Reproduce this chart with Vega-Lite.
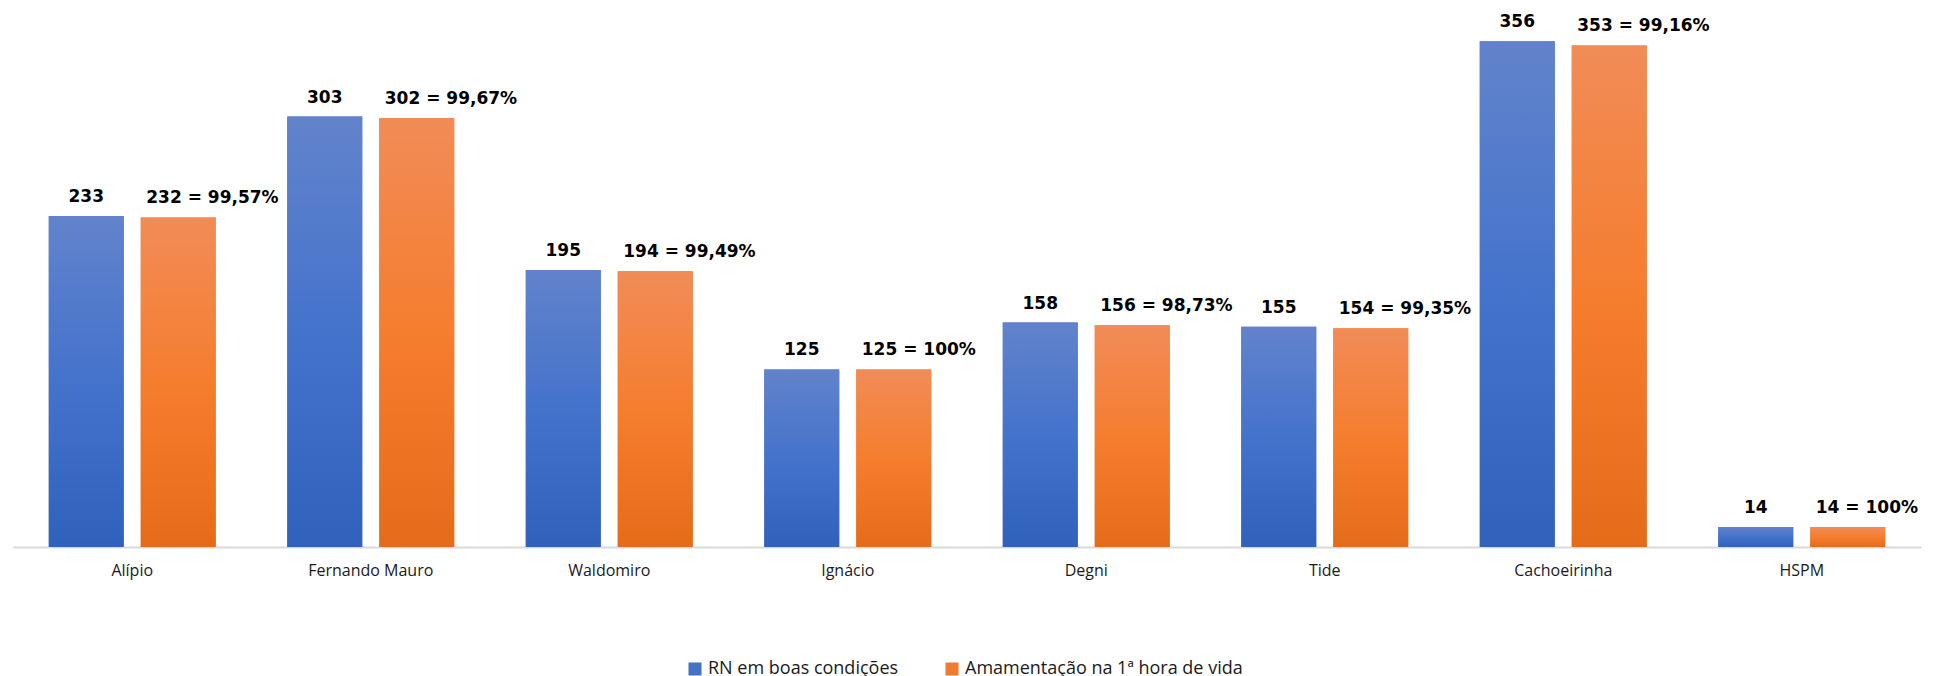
{
  "$schema": "https://vega.github.io/schema/vega-lite/v6.json",
  "width": 1908,
  "height": 547,
  "padding": {"left": 13, "top": 0, "right": 15, "bottom": 0},
  "background": "white",
  "config": {
    "view": {"stroke": null},
    "legend": {"layout": {"bottom": {"anchor": "middle"}}}
  },
  "data": {
    "values": [
      {"unidade": "Alípio", "serie": "RN em boas condições", "valor": 233, "rotulo": "233"},
      {"unidade": "Alípio", "serie": "Amamentação  na 1ª hora de vida", "valor": 232, "rotulo": "232 = 99,57%"},
      {"unidade": "Fernando Mauro", "serie": "RN em boas condições", "valor": 303, "rotulo": "303"},
      {"unidade": "Fernando Mauro", "serie": "Amamentação  na 1ª hora de vida", "valor": 302, "rotulo": "302 = 99,67%"},
      {"unidade": "Waldomiro", "serie": "RN em boas condições", "valor": 195, "rotulo": "195"},
      {"unidade": "Waldomiro", "serie": "Amamentação  na 1ª hora de vida", "valor": 194, "rotulo": "194 = 99,49%"},
      {"unidade": "Ignácio", "serie": "RN em boas condições", "valor": 125, "rotulo": "125"},
      {"unidade": "Ignácio", "serie": "Amamentação  na 1ª hora de vida", "valor": 125, "rotulo": "125 = 100%"},
      {"unidade": "Degni", "serie": "RN em boas condições", "valor": 158, "rotulo": "158"},
      {"unidade": "Degni", "serie": "Amamentação  na 1ª hora de vida", "valor": 156, "rotulo": "156 = 98,73%"},
      {"unidade": "Tide", "serie": "RN em boas condições", "valor": 155, "rotulo": "155"},
      {"unidade": "Tide", "serie": "Amamentação  na 1ª hora de vida", "valor": 154, "rotulo": "154 = 99,35%"},
      {"unidade": "Cachoeirinha", "serie": "RN em boas condições", "valor": 356, "rotulo": "356"},
      {"unidade": "Cachoeirinha", "serie": "Amamentação  na 1ª hora de vida", "valor": 353, "rotulo": "353 = 99,16%"},
      {"unidade": "HSPM", "serie": "RN em boas condições", "valor": 14, "rotulo": "14"},
      {"unidade": "HSPM", "serie": "Amamentação  na 1ª hora de vida", "valor": 14, "rotulo": "14 = 100%"}
    ]
  },
  "encoding": {
    "x": {
      "field": "unidade",
      "type": "nominal",
      "sort": null,
      "scale": {"paddingInner": 0.3, "paddingOuter": 0.15},
      "axis": {
        "title": null,
        "labelAngle": 0,
        "ticks": false,
        "domainColor": "#D9D9D9",
        "domainWidth": 2,
        "labelFontSize": 16,
        "labelFont": "Open Sans",
        "labelColor": "#1A1A1A",
        "labelPadding": 15
      }
    },
    "xOffset": {
      "field": "serie",
      "type": "nominal",
      "scale": {"domain": ["RN em boas condições", "Amamentação  na 1ª hora de vida"], "paddingInner": 0.185}
    },
    "y": {
      "field": "valor",
      "type": "quantitative",
      "scale": {"domain": [0, 385], "nice": false},
      "axis": null
    }
  },
  "layer": [
    {
      "mark": {"type": "bar"},
      "encoding": {
        "color": {
          "field": "serie",
          "type": "nominal",
          "scale": {"domain": ["RN em boas condições", "Amamentação  na 1ª hora de vida"], "range": ["#4472C4", "#ED7D31"]},
          "legend": {
            "orient": "bottom",
            "direction": "horizontal",
            "title": null,
            "symbolType": "square",
            "symbolSize": 170,
            "symbolStrokeWidth": 0,
            "labelFontSize": 18,
            "labelFont": "Open Sans",
            "labelColor": "#1A1A1A",
            "labelLimit": 0,
            "columnPadding": 44,
            "offset": 82
          }
        }
      }
    },
    {
      "transform": [{"filter": "datum.serie === 'RN em boas condições'"}],
      "mark": {
        "type": "bar",
        "color": {
          "gradient": "linear", "x1": 0, "y1": 0, "x2": 0, "y2": 1,
          "stops": [
            {"offset": 0, "color": "#6283CB"},
            {"offset": 0.5, "color": "#4473CC"},
            {"offset": 1, "color": "#3062BB"}
          ]
        }
      }
    },
    {
      "transform": [{"filter": "datum.serie !== 'RN em boas condições'"}],
      "mark": {
        "type": "bar",
        "color": {
          "gradient": "linear", "x1": 0, "y1": 0, "x2": 0, "y2": 1,
          "stops": [
            {"offset": 0, "color": "#F18C57"},
            {"offset": 0.5, "color": "#F57D2E"},
            {"offset": 1, "color": "#E46C19"}
          ]
        }
      }
    },
    {
      "transform": [{"filter": "datum.serie === 'RN em boas condições'"}],
      "mark": {"type": "text", "dy": -14, "baseline": "alphabetic", "align": "center", "font": "DejaVu Sans", "fontWeight": "bold", "fontSize": 17, "color": "#000000"},
      "encoding": {"text": {"field": "rotulo"}}
    },
    {
      "transform": [{"filter": "datum.serie !== 'RN em boas condições'"}],
      "mark": {"type": "text", "dy": -14, "dx": -32, "baseline": "alphabetic", "align": "left", "font": "DejaVu Sans", "fontWeight": "bold", "fontSize": 17, "color": "#000000"},
      "encoding": {"text": {"field": "rotulo"}}
    }
  ]
}
